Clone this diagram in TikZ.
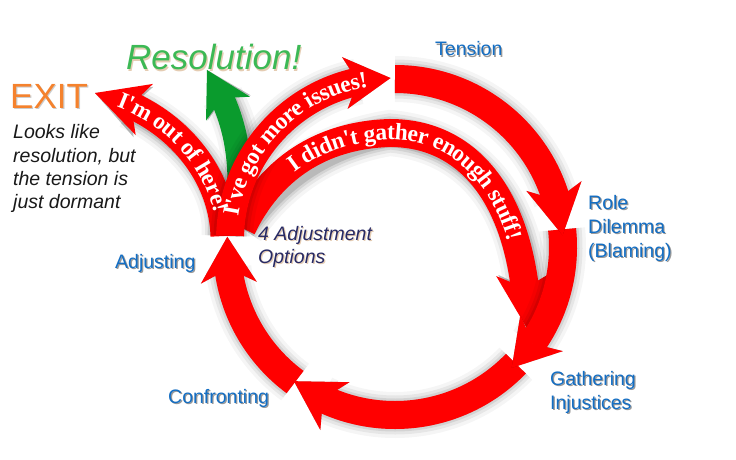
\documentclass[tikz,border=0pt]{standalone}
\usepackage{fontspec}
\setmainfont{Liberation Sans}
\newfontfamily\bandserif{Liberation Serif}
\usetikzlibrary{arrows.meta,bending,decorations.text}
\definecolor{ringred}{RGB}{255,0,0}
\definecolor{labelblue}{RGB}{20,110,195}
\definecolor{navytext}{RGB}{40,42,100}
\definecolor{exitorange}{RGB}{245,130,45}
\definecolor{resgreen}{RGB}{60,185,85}
\definecolor{arrowgreen}{RGB}{10,155,45}
\newcommand\lblfont{\fontsize{19.5pt}{23pt}\selectfont}
\newcommand\bandtextfmt{\bandserif\bfseries\fontsize{23.5pt}{23.5pt}\selectfont\color{white}}
% #1 band width, #2 tip options, #3 colour, #4 path
\newcommand\bandarrow[4]{%
  \foreach \ex/\op in {18/0.04,11/0.06,5/0.08,0/0.12}{%
    \draw[black,opacity=\op,line width=#1pt+\ex pt,shift={(6pt,-8pt)},-{Stealth[#2,line width=0pt]}] #4;}%
  \draw[#3,line width=#1pt,-{Stealth[#2,line width=0pt]}] #4;}
% #1 name, #2 position, #3 colour, #4 font, #5 text, #6 shadow colour
\newcommand\shlabel[6]{%
  \node[anchor=base west,inner sep=0pt,text=#6,opacity=0.4] (#1-sh) at ([shift={(1.2pt,-1.2pt)}]#2) {#4#5};
  \node[anchor=base west,inner sep=0pt,text=#3] (#1) at (#2) {#4#5};}
\begin{document}
\begin{tikzpicture}[x=1pt,y=1pt]
\useasboundingbox (0,0) rectangle (736,-460);
\fill[white] (0,0) rectangle (736,-460);
% centres of the cycle
\coordinate (C) at (395,-247);
\coordinate (C2) at (392,-240);
% ring arrow starts
\coordinate (tenS) at ([shift={(90:168)}]C);
\coordinate (rolS) at ([shift={(6:168)}]C);
\coordinate (gatS) at ([shift={(-44:168)}]C);
\coordinate (conS) at ([shift={(-126.5:168)}]C);
\coordinate (issS) at ([shift={(178.5:162)}]C2);
\coordinate (issT) at ([shift={(178:162)}]C2);
% branch arrows
\coordinate (grS) at (238,-215);
\coordinate (grE) at (207,-70);
\coordinate (exS) at (224,-236);
\coordinate (exE) at (95,-93);
\coordinate (dS) at (242,-228);
\coordinate (dM) at (390,-133);
\coordinate (dE) at (528,-330);
\coordinate (dT) at (290,-167);

% green resolution arrow
\bandarrow{24}{length=44pt,width=50pt,inset=12pt}{arrowgreen}{(grS) .. controls (244,-150) and (232,-110) .. (grE)}
% I didn't gather enough stuff
\bandarrow{28}{length=56pt,width=56pt,inset=14pt}{ringred}{(dS) .. controls (270,-170) and (320,-135) .. (dM) .. controls (470,-133) and (525,-200) .. (dE)}
% main cycle
\bandarrow{28}{length=46pt,width=56pt,inset=14pt}{ringred}{(conS) arc[start angle=-126.5,end angle=-183.5,radius=168]}
\bandarrow{28}{length=48pt,width=56pt,inset=14pt}{ringred}{(gatS) arc[start angle=-44,end angle=-127,radius=168]}
\bandarrow{28}{length=46pt,width=56pt,inset=14pt}{ringred}{(rolS) arc[start angle=6,end angle=-46,radius=168]}
\bandarrow{28}{length=50pt,width=56pt,inset=14pt}{ringred}{(tenS) arc[start angle=90,end angle=4,radius=168]}
% I'm out of here
\bandarrow{27}{length=52pt,width=54pt,inset=14pt}{ringred}{(exS) .. controls (222,-170) and (170,-110) .. (exE)}
% I've got more issues
\bandarrow{28}{length=46pt,width=52pt,inset=13pt}{ringred}{(issS) arc[start angle=178.5,end angle=90.5,radius=162]}

% texts on the bands
\path[decorate,decoration={text along path,text format delimiters={|}{|},
  text={|\bandtextfmt|I'm out of here!},text align=center,raise=-7pt}]
  (exE) .. controls (170,-110) and (222,-170) .. (exS);
\path[decorate,decoration={text along path,text format delimiters={|}{|},
  text={|\bandtextfmt|I've got more issues!},text align=center,raise=-7pt}]
  (issT) arc[start angle=178,end angle=92,radius=162];
\path[decorate,decoration={text along path,text format delimiters={|}{|},
  text={|\bandtextfmt|I didn't gather enough stuff!},raise=-7pt}]
  (dT) .. controls (317,-146) and (351.5,-134.1) .. (dM) .. controls (470,-133) and (525,-200) .. (dE);

% labels
\shlabel{tension}{435,-56}{labelblue}{\lblfont}{Tension}{black}
\shlabel{role1}{588,-209}{labelblue}{\lblfont}{Role}{black}
\shlabel{role2}{588,-233}{labelblue}{\lblfont}{Dilemma}{black}
\shlabel{role3}{588,-257}{labelblue}{\lblfont}{(Blaming)}{black}
\shlabel{gath1}{550,-385}{labelblue}{\lblfont}{Gathering}{black}
\shlabel{gath2}{550,-409}{labelblue}{\lblfont}{Injustices}{black}
\shlabel{conf}{168,-403}{labelblue}{\lblfont}{Confronting}{black}
\shlabel{adj}{115,-268}{labelblue}{\lblfont}{Adjusting}{black}
\shlabel{opt1}{258,-240}{navytext}{\lblfont\itshape}{4 Adjustment}{brown}
\shlabel{opt2}{258,-263}{navytext}{\lblfont\itshape}{Options}{brown}
\shlabel{exit}{10,-108}{exitorange}{\fontsize{35pt}{40pt}\selectfont}{EXIT}{gray}
\shlabel{resol}{126,-70}{resgreen}{\fontsize{35pt}{40pt}\selectfont\itshape}{Resolution!}{brown}
\node[anchor=base west,inner sep=0pt,text=black!90] (look1) at (13,-138) {\lblfont\itshape Looks like};
\node[anchor=base west,inner sep=0pt,text=black!90] (look2) at (13,-162) {\lblfont\itshape resolution, but};
\node[anchor=base west,inner sep=0pt,text=black!90] (look3) at (13,-185) {\lblfont\itshape the tension is};
\node[anchor=base west,inner sep=0pt,text=black!90] (look4) at (13,-208) {\lblfont\itshape just dormant};
\end{tikzpicture}
\end{document}
